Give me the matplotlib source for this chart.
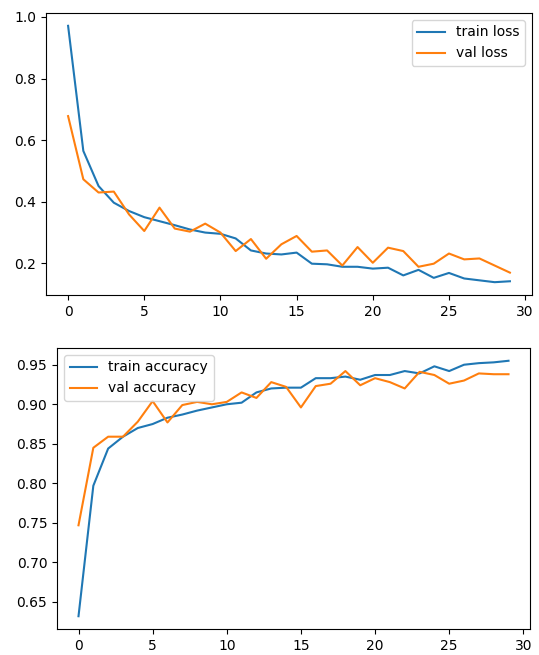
import numpy as np
import matplotlib
matplotlib.use("Agg")
import matplotlib.pyplot as plt

epochs = np.arange(30)

train_loss = [0.971, 0.565, 0.451, 0.397, 0.370, 0.350, 0.337, 0.324, 0.310, 0.300,
              0.296, 0.281, 0.242, 0.232, 0.229, 0.235, 0.199, 0.197, 0.189, 0.189,
              0.183, 0.186, 0.161, 0.179, 0.153, 0.169, 0.151, 0.145, 0.139, 0.142]
val_loss = [0.678, 0.473, 0.430, 0.433, 0.359, 0.305, 0.381, 0.313, 0.303, 0.329,
            0.300, 0.240, 0.279, 0.215, 0.262, 0.289, 0.238, 0.242, 0.193, 0.253,
            0.202, 0.251, 0.240, 0.189, 0.199, 0.232, 0.213, 0.216, 0.193, 0.170]

train_acc = [0.632, 0.797, 0.844, 0.859, 0.870, 0.875, 0.883, 0.887, 0.892, 0.896,
             0.900, 0.902, 0.915, 0.920, 0.921, 0.921, 0.933, 0.933, 0.935, 0.931,
             0.937, 0.937, 0.942, 0.939, 0.948, 0.942, 0.950, 0.952, 0.953, 0.955]
val_acc = [0.747, 0.845, 0.859, 0.859, 0.878, 0.904, 0.877, 0.899, 0.903, 0.900,
           0.903, 0.915, 0.908, 0.928, 0.922, 0.896, 0.923, 0.926, 0.942, 0.924,
           0.933, 0.928, 0.920, 0.941, 0.937, 0.926, 0.930, 0.939, 0.938, 0.938]

plt.rcParams['font.size'] = 10

W, H = 539, 655
fig = plt.figure(figsize=(W / 100, H / 100), dpi=100)


def px_axes(left, top, right, bottom):
    return fig.add_axes([left / W, 1 - bottom / H, (right - left) / W, (bottom - top) / H])


ax1 = px_axes(46, 13, 532, 295)
ax1.plot(epochs, train_loss, label="train loss")
ax1.plot(epochs, val_loss, label="val loss")
ax1.legend(loc="upper right")

ax2 = px_axes(57, 348, 530, 629)
ax2.plot(epochs, train_acc, label="train accuracy")
ax2.plot(epochs, val_acc, label="val accuracy")
ax2.legend(loc="upper left")

fig.savefig("out.png", dpi=100)
